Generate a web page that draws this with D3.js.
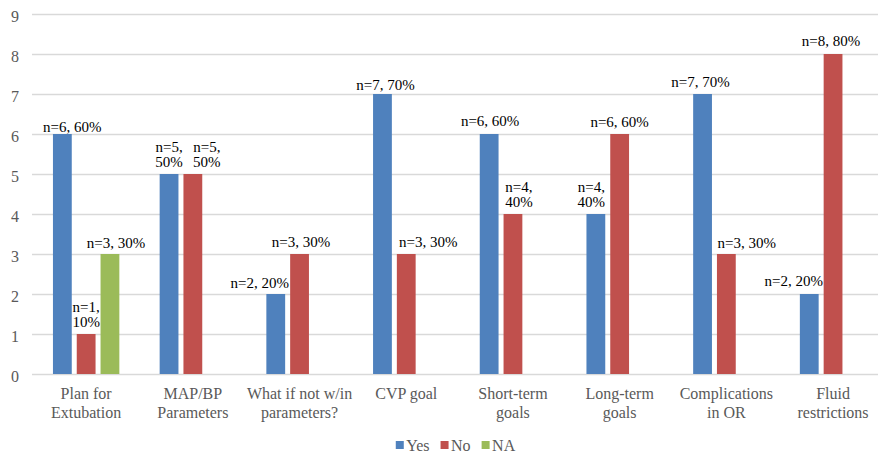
<!DOCTYPE html>
<html><head><meta charset="utf-8">
<script src="https://cdn.jsdelivr.net/npm/d3@7/dist/d3.min.js"></script></head>
<body style="margin:0">
<svg id="chart" width="878" height="455"></svg>
<script>
// Survey responses per checklist item (10 respondents)
const categories = ["Plan for Extubation", "MAP/BP Parameters", "What if not w/in parameters?",
  "CVP goal", "Short-term goals", "Long-term goals", "Complications in OR", "Fluid restrictions"];
const categoryLines = [["Plan for", "Extubation"], ["MAP/BP", "Parameters"], ["What if not w/in", "parameters?"],
  ["CVP goal"], ["Short-term", "goals"], ["Long-term", "goals"], ["Complications", "in OR"], ["Fluid", "restrictions"]];
const seriesNames = ["Yes", "No", "NA"];
const yesValues = [6, 5, 2, 7, 6, 4, 7, 2];
const noValues  = [1, 5, 3, 3, 4, 6, 3, 8];
const naValues  = [3, null, null, null, null, null, null, null];
const respondents = 10;
const yTicks = [0, 1, 2, 3, 4, 5, 6, 7, 8, 9];

const seriesValues = { Yes: yesValues, No: noValues, NA: naValues };
const colors = { Yes: "#4F81BD", No: "#C0504D", NA: "#9BBB59" };
const FONT = "'Liberation Serif'";

// Placement tweaks for individual value labels (offsets from bar centre / bar top, line wrapping)
const labelLayout = {
  "0|Yes": { dx: 10, dy: -2 }, "0|No": { dx: 0, wrap: true }, "0|NA": { dx: 6, dy: -6 },
  "1|Yes": { dx: 0, wrap: true }, "1|No": { dx: 14, wrap: true },
  "2|Yes": { dx: -16, dy: -6 }, "2|No": { dx: 1.5 },
  "3|Yes": { dx: 3, dy: -4 }, "3|No": { dx: 22 },
  "4|Yes": { dx: 1, dy: -8 }, "4|No": { dx: 6, wrap: true },
  "5|Yes": { dx: -4.5, wrap: true }, "5|No": { dx: 0 },
  "6|Yes": { dx: -2 }, "6|No": { dx: 20.5, dy: -6 },
  "7|Yes": { dx: -15.5, dy: -8 }, "7|No": { dx: -2, dy: -8 }
};

const svg = d3.select("#chart");
const W = 878;

const x0 = d3.scaleBand().domain(categories).range([32.8, 886.4]).paddingInner(0).paddingOuter(0);
const x1 = d3.scaleBand().domain(seriesNames).range([0, x0.bandwidth()]).paddingInner(0.21).paddingOuter(0.847);
const y = d3.scaleLinear().domain([0, 9]).range([374, 14]);

// Gridlines
svg.append("g").selectAll("line").data(yTicks).join("line")
  .attr("x1", 32).attr("x2", W)
  .attr("y1", d => Math.round(y(d)) + 0.5).attr("y2", d => Math.round(y(d)) + 0.5)
  .attr("stroke", "#D9D9D9").attr("stroke-width", 1.3);

// Y axis labels
const yAxis = svg.append("g").attr("transform", "translate(19,0)")
  .call(d3.axisLeft(y).tickValues(yTicks).tickSize(0).tickPadding(0).tickFormat(d3.format("d")));
yAxis.select(".domain").remove();
yAxis.attr("font-family", null).attr("font-size", null);
yAxis.selectAll("text").attr("fill", "#595959").attr("dy", "0.45em")
  .attr("font-size", 16).style("font-family", FONT);

// Bars
const barData = [];
categories.forEach((c, i) => {
  seriesNames.forEach(s => {
    const v = seriesValues[s][i];
    if (v != null) barData.push({ c, i, s, v });
  });
});

svg.append("g").selectAll("rect").data(barData).join("rect")
  .attr("x", d => x0(d.c) + x1(d.s))
  .attr("width", x1.bandwidth())
  .attr("y", d => y(d.v))
  .attr("height", d => y(0) - y(d.v))
  .attr("fill", d => colors[d.s]);

// Value labels
barData.forEach(d => {
  const lay = labelLayout[d.i + "|" + d.s] || {};
  const cx = x0(d.c) + x1(d.s) + x1.bandwidth() / 2 + (lay.dx || 0);
  const base = y(d.v) + (lay.dy != null ? lay.dy : -7);
  const pct = Math.round(d.v / respondents * 100) + "%";
  const lines = lay.wrap ? ["n=" + d.v + ",", pct] : ["n=" + d.v + ", " + pct];
  lines.forEach((ln, k) => {
    svg.append("text").attr("x", cx)
      .attr("y", base - (lines.length - 1 - k) * 15.5)
      .attr("text-anchor", "middle").attr("fill", "#000").attr("font-size", 15)
      .style("font-family", FONT)
      .text(ln);
  });
});

// Category axis labels
categories.forEach((c, i) => {
  const cx = x0(c) + x0.bandwidth() / 2;
  categoryLines[i].forEach((ln, k) => {
    svg.append("text").attr("x", cx).attr("y", 399 + k * 18.5)
      .attr("text-anchor", "middle").attr("fill", "#595959").attr("font-size", 16)
      .style("font-family", FONT)
      .text(ln);
  });
});

// Legend
const items = seriesNames.map(s => {
  const g = svg.append("g");
  g.append("rect").attr("width", 8).attr("height", 8).attr("y", 441).attr("fill", colors[s]);
  const txt = g.append("text").attr("x", 10.5).attr("y", 451)
    .attr("fill", "#595959").attr("font-size", 16).style("font-family", FONT).text(s);
  return { g, w: 10.5 + txt.node().getComputedTextLength() };
});
const gap = 11;
const total = d3.sum(items, d => d.w) + gap * (items.length - 1);
let lx = 455.5 - total / 2;
items.forEach(it => { it.g.attr("transform", `translate(${lx},0)`); lx += it.w + gap; });
</script>
</body>
</html>
